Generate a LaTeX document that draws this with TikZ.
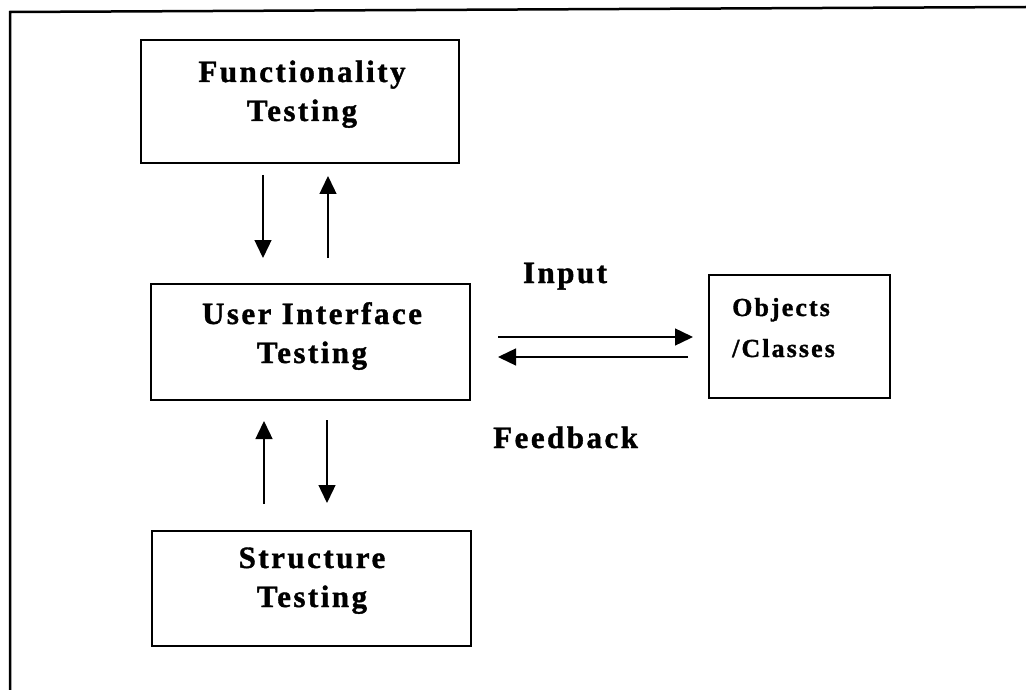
\documentclass[tikz,border=0pt]{standalone}
\usepackage{fontspec}
\newfontfamily\lblfamily{Liberation Serif}[LetterSpace=8, BoldFeatures={FakeBold=1.2}]
\usetikzlibrary{arrows.meta}
\tikzset{
  box/.style={draw, line width=1.6pt, rectangle, inner sep=0pt, outer sep=0pt, anchor=north west},
  bigtext/.style={font=\lblfamily\bfseries\fontsize{31}{39}\selectfont, align=center, inner sep=0pt, anchor=base},
  smalltext/.style={font=\lblfamily\bfseries\fontsize{26}{41}\selectfont, align=left, inner sep=0pt, anchor=base west},
  arr/.style={line width=1.4pt, -{Triangle[length=18pt,width=17pt]}},
  frame/.style={line width=2.5pt}
}
\begin{document}
\begin{tikzpicture}[x=1pt,y=-1pt]
\useasboundingbox (0,0) rectangle (1026,690);
\draw[frame] (10,690) -- (10,12) -- (1026,7);
% boxes
\node[box, minimum width=318pt, minimum height=123pt] (func) at (141,40) {};
\node[box, minimum width=319pt, minimum height=116pt] (ui) at (151,284) {};
\node[box, minimum width=319pt, minimum height=115pt] (st) at (152,531) {};
\node[box, minimum width=181pt, minimum height=123pt] (obj) at (709,275) {};
% texts (anchor base = baseline of the last line)
\node[bigtext] (funct) at (302,121) {Functionality\\Testing};
\node[bigtext] (uit) at (312,363) {User Interface\\Testing};
\node[bigtext] (stt) at (312,607) {Structure\\Testing};
\node[smalltext] (objt) at (732,357) {Objects\\/Classes};
\node[bigtext] (inp) at (565,283) {Input};
\node[bigtext, anchor=base west] (fb) at (493,448) {Feedback};
% arrow guide coordinates
\coordinate (c1) at (263,0);
\coordinate (c2) at (328,0);
\coordinate (c3) at (264,0);
\coordinate (c4) at (327,0);
\coordinate (h1) at (0,337);
\coordinate (h2) at (0,357);
% arrows
\draw[arr, shorten <=12pt, shorten >=26pt] (func.south -| c1) -- (ui.north -| c1);
\draw[arr, shorten <=26pt, shorten >=13pt] (ui.north -| c2) -- (func.south -| c2);
\draw[arr, shorten <=27pt, shorten >=21pt] (st.north -| c3) -- (ui.south -| c3);
\draw[arr, shorten <=20pt, shorten >=28pt] (ui.south -| c4) -- (st.north -| c4);
\draw[arr, shorten <=28pt, shorten >=16pt] (ui.east |- h1) -- (obj.west |- h1);
\draw[arr, shorten <=21pt, shorten >=28pt] (obj.west |- h2) -- (ui.east |- h2);
\end{tikzpicture}
\end{document}
